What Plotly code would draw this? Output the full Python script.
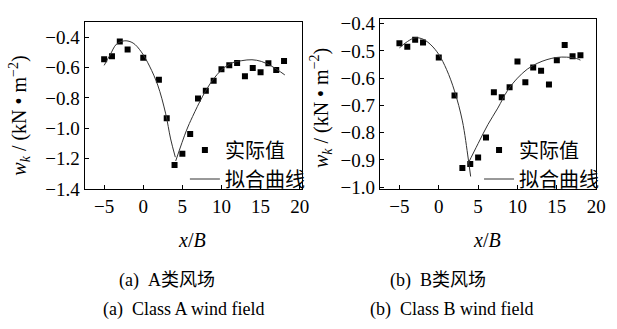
import plotly.graph_objects as go

W, H = 617, 329

# ---------------- data ----------------
x_pos = [-5, -4, -3, -2, 0, 2, 3, 4, 5, 6, 7, 8, 9, 10, 11, 12, 13, 14, 15, 16, 17, 18]

# (a) Class A wind field - measured values
a_meas = [-0.544, -0.525, -0.427, -0.481, -0.534, -0.679, -0.934, -1.242, -1.167, -1.037,
          -0.804, -0.752, -0.686, -0.611, -0.584, -0.569, -0.656, -0.603, -0.631, -0.571,
          -0.615, -0.556]
# (a) fitted curve (two branches, separated by a gap)
a_fit_x = [-5.0, -4.25, -3.4, -2.35, -1.3, -0.25, 0.8, 1.85, 2.85, 3.5, 4.1,
           None,
           4.15, 5.5, 6.3, 7.6, 8.85, 10.1, 11.35, 12.6, 13.9, 15.1, 16.4, 18.1]
a_fit_y = [-0.585, -0.517, -0.444, -0.423, -0.438, -0.496, -0.59, -0.715, -0.9, -1.07, -1.19,
           None,
           -1.215, -1.017, -0.923, -0.788, -0.684, -0.611, -0.569, -0.554, -0.548, -0.559,
           -0.59, -0.648]

# (b) Class B wind field - measured values
b_meas = [-0.472, -0.485, -0.459, -0.469, -0.524, -0.664, -0.930, -0.915, -0.891, -0.818,
          -0.652, -0.670, -0.633, -0.539, -0.615, -0.561, -0.573, -0.623, -0.534, -0.478,
          -0.520, -0.516]
b_fit_x = [-5, -4, -3, -2, -1, 0, 1, 2, 3, 3.75, 4.05,
           None,
           3.7, 5.0, 6.25, 7.5, 8.75, 10.0, 11.25, 12.5, 13.75, 15.0, 16.25, 17.5, 18.0]
b_fit_y = [-0.489, -0.466, -0.452, -0.457, -0.478, -0.513, -0.569, -0.647, -0.757, -0.897, -0.961,
           None,
           -0.915, -0.84, -0.77, -0.71, -0.645, -0.6, -0.567, -0.546, -0.532, -0.524,
           -0.523, -0.528, -0.534]

x_ticks = [-5, 0, 5, 10, 15, 20]
a_yticks = [-0.4, -0.6, -0.8, -1.0, -1.2, -1.4]
b_yticks = [-0.4, -0.5, -0.6, -0.7, -0.8, -0.9, -1.0]

name_meas = "实际值"
name_fit = "拟合曲线"
cap_a_cn = "(a)\u00a0\u00a0A类风场"
cap_b_cn = "(b)\u00a0\u00a0B类风场"
cap_a_en = "(a)\u00a0\u00a0Class A wind field"
cap_b_en = "(b)\u00a0\u00a0Class B wind field"
y_title = "<i>w</i><sub><i>k</i></sub> / (kN • m<sup>−2</sup>)"
x_title = "<i>x</i>/<i>B</i>"

# ---------------- helpers ----------------
def fx(px):
    return px / W

def fy(py):
    return 1 - py / H

FONT = "Liberation Serif, Times New Roman, Noto Sans CJK SC, serif"

fig = go.Figure()

fig.add_trace(go.Scatter(x=x_pos, y=a_meas, mode="markers", name=name_meas,
                         marker=dict(symbol="square", size=6, color="black"),
                         xaxis="x", yaxis="y", legend="legend"))
fig.add_trace(go.Scatter(x=a_fit_x, y=a_fit_y, mode="lines", name=name_fit,
                         line=dict(color="#333333", width=1, shape="spline"),
                         connectgaps=False, xaxis="x", yaxis="y", legend="legend"))
fig.add_trace(go.Scatter(x=x_pos, y=b_meas, mode="markers", name=name_meas,
                         marker=dict(symbol="square", size=6, color="black"),
                         xaxis="x2", yaxis="y2", legend="legend2"))
fig.add_trace(go.Scatter(x=b_fit_x, y=b_fit_y, mode="lines", name=name_fit,
                         line=dict(color="#333333", width=1, shape="spline"),
                         connectgaps=False, xaxis="x2", yaxis="y2", legend="legend2"))

axis_common = dict(showline=True, linecolor="black", linewidth=1, mirror=True,
                   ticks="inside", ticklen=4, tickcolor="black", showgrid=False,
                   zeroline=False, tickfont=dict(family=FONT, size=19, color="black"))

legend_common = dict(xanchor="right", yanchor="bottom", bgcolor="rgba(0,0,0,0)",
                     font=dict(family=FONT, size=20, color="black"),
                     tracegroupgap=0, itemwidth=30)

fig.update_layout(
    width=W, height=H,
    margin=dict(l=0, r=0, t=0, b=0),
    paper_bgcolor="white", plot_bgcolor="white",
    font=dict(family=FONT, color="black"),
    xaxis=dict(domain=[fx(86), fx(307)], range=[-7.5, 20.3], tickvals=x_ticks,
               anchor="y", **axis_common),
    yaxis=dict(domain=[fy(193), fy(17)], range=[-1.4, -0.3], tickvals=a_yticks,
               tickformat=".1f", anchor="x", **axis_common),
    xaxis2=dict(domain=[fx(386), fx(606)], range=[-7.5, 20], tickvals=x_ticks,
                anchor="y2", **axis_common),
    yaxis2=dict(domain=[fy(193), fy(14)], range=[-1.007, -0.384], tickvals=b_yticks,
                tickformat=".1f", anchor="x2", **axis_common),
    legend=dict(x=fx(315), y=fy(203), **legend_common),
    legend2=dict(x=fx(614), y=fy(203), **legend_common),
    showlegend=True,
)

def note(px, py, text, size, angle=0):
    return dict(x=fx(px), y=fy(py), xref="paper", yref="paper", text=text,
                xanchor="center", yanchor="middle", textangle=angle,
                showarrow=False, font=dict(family=FONT, size=size, color="black"))

ann = [
    note(20, 116, y_title, 20, -90),
    note(327, 108, y_title, 20, -90),
    note(195, 247, x_title, 20),
    note(495, 247, x_title, 20),
    note(170, 289, cap_a_cn, 18),
    note(445, 289, cap_b_cn, 18),
    note(187, 320, cap_a_en, 18),
    note(459, 320, cap_b_en, 18),
]
fig.update_layout(annotations=ann)

fig.write_html("out.html")
